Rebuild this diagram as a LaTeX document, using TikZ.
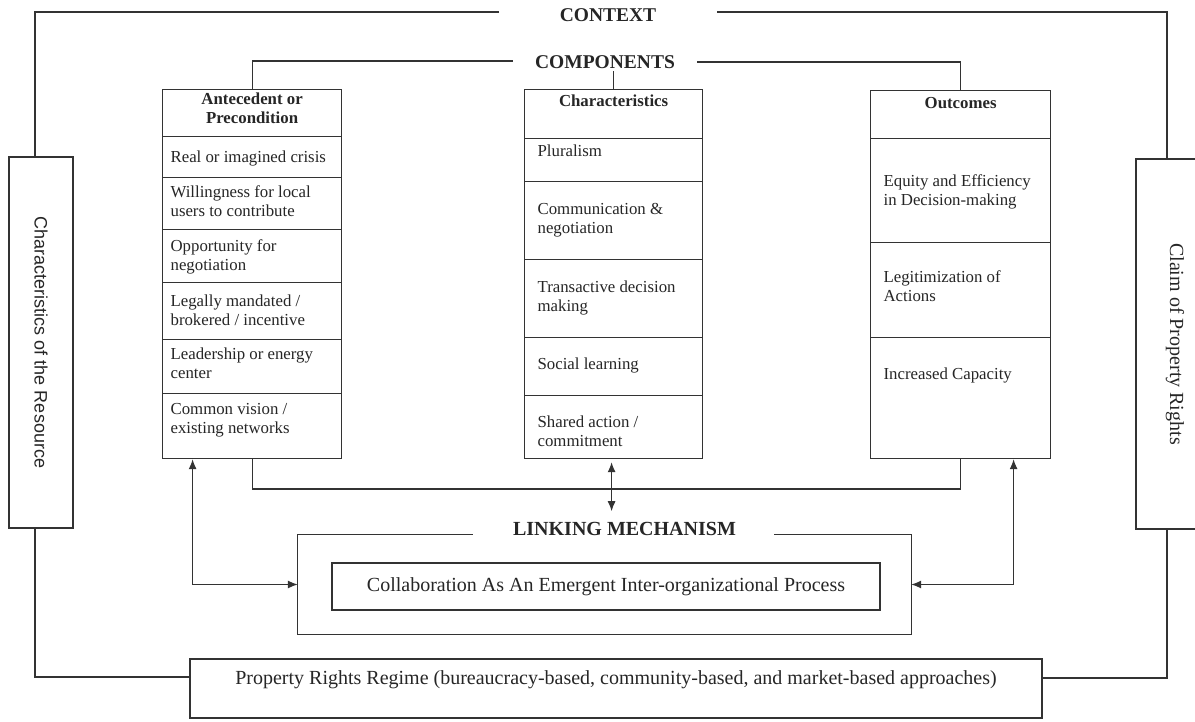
\documentclass[tikz,border=0pt]{standalone}
\usepackage{fontspec}
\usepackage{graphicx}
\setmainfont{Liberation Serif}
\newfontfamily\sansf{Liberation Sans}
\usetikzlibrary{arrows.meta}
\newcommand{\tcell}[5]{\parbox[c][#1pt][t]{#2pt}{\raggedright\leftskip=#3pt\relax\rule{0pt}{#4pt}#5}}
\newcommand{\hcell}[4]{\parbox[c][#1pt][t]{#2pt}{\centering\bfseries\rule{0pt}{#3pt}#4}}
\tikzset{
  ln/.style={line width=1.2pt, draw=black!80},
  cellnode/.style={draw=black!80, line width=1.2pt, inner sep=0pt, anchor=north west,
    text=black!85, font=\fontsize{16.8}{19}\selectfont},
  bigtitle/.style={font=\bfseries\fontsize{19.5}{22}\selectfont, text=black!85, inner sep=2pt},
  bigtext/.style={font=\fontsize{20}{22}\selectfont, text=black!85},
  arr/.style={ln, {Latex[length=10pt,width=8pt]}-{Latex[length=10pt,width=8pt]}}
}
\begin{document}
\begin{tikzpicture}[x=1pt,y=-1pt]
\useasboundingbox (0,0) rectangle (1195,721);
\fill[white] (0,0) rectangle (1195,721);

% titles
\node[bigtitle] (context) at (608,15) {CONTEXT};
\node[bigtitle] (compo) at (605,62) {COMPONENTS};

% left column
\node[cellnode] (l0) at (162,89) {\hcell{47}{179}{15}{Antecedent or\\Precondition}};
\node[cellnode] (l1) at (162,136) {\tcell{41}{179}{8}{26}{Real or imagined crisis}};
\node[cellnode] (l2) at (162,177) {\tcell{52}{179}{8}{20}{Willingness for local\\users to contribute}};
\node[cellnode] (l3) at (162,229) {\tcell{53}{179}{8}{22}{Opportunity for\\negotiation}};
\node[cellnode] (l4) at (162,282) {\tcell{57}{179}{8}{24}{Legally mandated /\\brokered / incentive}};
\node[cellnode] (l5) at (162,339) {\tcell{54}{179}{8}{20}{Leadership or energy\\center}};
\node[cellnode] (l6) at (162,393) {\tcell{65}{179}{8}{21}{Common vision /\\existing networks}};

% middle column
\node[cellnode] (m0) at (524,89) {\hcell{49}{178}{17}{Characteristics}};
\node[cellnode] (m1) at (524,138) {\tcell{43}{178}{13}{18}{Pluralism}};
\node[cellnode] (m2) at (524,181) {\tcell{78}{178}{13}{33}{Communication \&\\negotiation}};
\node[cellnode] (m3) at (524,259) {\tcell{78}{178}{13}{33}{Transactive decision\\making}};
\node[cellnode] (m4) at (524,337) {\tcell{58}{178}{13}{32}{Social learning}};
\node[cellnode] (m5) at (524,395) {\tcell{63}{178}{13}{32}{Shared action /\\commitment}};

% right column
\node[cellnode] (r0) at (870,90) {\hcell{48}{180}{18}{Outcomes}};
\node[cellnode] (r1) at (870,138) {\tcell{104}{180}{13}{48}{Equity and Efficiency\\in Decision-making}};
\node[cellnode] (r2) at (870,242) {\tcell{95}{180}{13}{40}{Legitimization of\\Actions}};
\node[cellnode] (r3) at (870,337) {\tcell{121}{180}{13}{42}{Increased Capacity}};

% side boxes
\node[draw=black!80, line width=1.2pt, minimum width=64pt, minimum height=371pt, inner sep=0pt,
  text=black!85, font=\sansf\fontsize{18}{20}\selectfont] (lres) at (41,342.5)
  {\rotatebox{-90}{Characteristics of the Resource}};
\begin{scope}
\clip (0,0) rectangle (1195,721);
\node[draw=black!80, line width=1.2pt, minimum width=78pt, minimum height=370pt, inner sep=0pt,
  bigtext] (claim) at (1175,344)
  {\rotatebox{-90}{Claim of Property Rights}};
\end{scope}

% linking mechanism
\node[minimum width=613pt, minimum height=99pt, inner sep=0pt] (link) at (604.5,584.5) {};
\node[font=\bfseries\fontsize{20}{22}\selectfont, text=black!85, anchor=base, inner sep=0pt] (linkt) at (624.5,535) {LINKING MECHANISM};
\draw[ln] (link.north west) ++(175,0) -- (link.north west) -- (link.south west)
  -- (link.south east) -- (link.north east) -- ++(-137,0);
\node[draw=black!80, line width=1.2pt, minimum width=548pt, minimum height=47pt, inner sep=0pt,
  bigtext] (collab) at (606,586.5) {Collaboration As An Emergent Inter-organizational Process};

% property rights regime
\node[draw=black!80, line width=1.2pt, minimum width=852pt, minimum height=59pt, inner sep=0pt,
  text height=15pt, text depth=24pt, bigtext] (prop) at (616,688.5)
  {Property Rights Regime (bureaucracy-based, community-based, and market-based approaches)};

% coordinates
\coordinate (ctxL) at (35,12);
\coordinate (ctxLend) at (499,12);
\coordinate (ctxR) at (1167,12);
\coordinate (ctxRbeg) at (717,12);
\coordinate (cmpLend) at (513,61);
\coordinate (cmpRbeg) at (697,62);
\coordinate (pL) at (35,677);
\coordinate (pR) at (1167,678);
\coordinate (brk) at (600,489);

% context frame
\draw[ln] (ctxLend) -- (ctxL) -- (ctxL |- lres.north);
\draw[ln] (ctxL |- lres.south) -- (pL) -- (pL -| prop.west);
\draw[ln] (ctxRbeg) -- (ctxR) -- (ctxR |- claim.north);
\draw[ln] (ctxR |- claim.south) -- (pR) -- (pR -| prop.east);

% components frame
\draw[ln] (l0.north) -- (l0.north |- cmpLend) -- (cmpLend);
\draw[ln] (cmpRbeg) -- (cmpRbeg -| r0.north) -- (r0.north);
\draw[ln] (m0.north) -- (m0.north |- compo.south);
\draw[ln] (l6.south) -- (l6.south |- brk) -- (brk -| r3.south) -- (r3.south);

% arrows
\draw[arr] ([xshift=-59.5pt]l6.south) |- (link.west);
\draw[arr] ([xshift=53pt]r3.south) |- (link.east);
\draw[arr] ([xshift=-2pt,yshift=-3pt]m5.south) -- ([xshift=-2pt,yshift=-52pt]m5.south);
\end{tikzpicture}
\end{document}
